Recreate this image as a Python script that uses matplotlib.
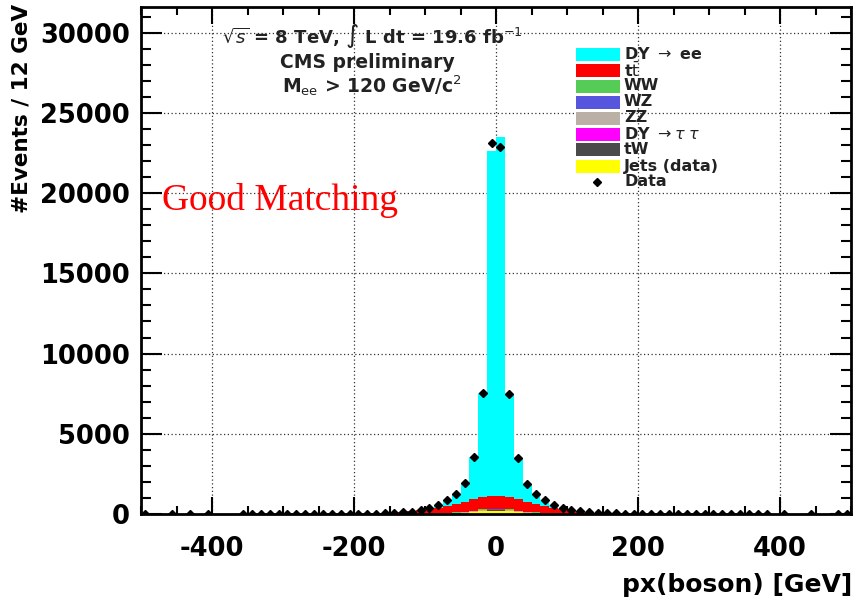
import numpy as np
import matplotlib
matplotlib.use("Agg")
import matplotlib.pyplot as plt
from matplotlib.patches import Rectangle
from matplotlib.ticker import MultipleLocator

plt.rcParams['font.family'] = ['DejaVu Sans']
plt.rcParams['axes.unicode_minus'] = False

# 80 bins of 12.5 GeV from -500 to 500
edges = np.linspace(-500, 500, 81)

data = [1, 0, 0, 1, 0, 1, 0, 1, 0, 0,
        0, 1, 1, 1, 1, 2, 1, 2, 2, 3,
        5, 6, 8, 10, 14, 20, 30, 45, 65, 100,
        150, 240, 380, 580, 870, 1250, 1950, 3550, 7550, 23150,
        22900, 7500, 3500, 1900, 1250, 880, 590, 390, 250, 160,
        105, 70, 48, 33, 23, 16, 11, 9, 7, 5,
        4, 3, 3, 2, 2, 1, 1, 2, 1, 1,
        1, 0, 1, 0, 0, 1, 0, 0, 1, 1]

# simulation only filled in the central 40 bins (-250 .. 250)
dy_ee = [2, 2, 3, 3, 4, 4, 5, 6, 8, 10, 15, 30, 75, 180, 350, 600, 1160, 2640, 6500, 21550,
         22420, 6460, 2590, 1110, 600, 360, 180, 80, 35, 17, 11, 6, 5, 4, 4, 3, 3, 2, 2, 2]
ttbar = [1, 2, 4, 6, 10, 17, 28, 45, 70, 105, 150, 210, 280, 360, 450, 540, 620, 690, 740, 760,
         760, 740, 690, 620, 540, 450, 360, 280, 210, 150, 105, 70, 45, 28, 17, 10, 6, 4, 2, 1]
ww = [0, 0, 0, 0, 0, 0, 0, 1, 2, 3, 5, 7, 11, 16, 22, 29, 36, 42, 47, 50,
      50, 47, 42, 36, 29, 22, 16, 11, 7, 5, 3, 2, 1, 0, 0, 0, 0, 0, 0, 0]
wz = [0, 0, 0, 0, 0, 0, 0, 0, 0, 0, 1, 2, 3, 5, 7, 10, 14, 18, 22, 25,
      25, 22, 18, 14, 10, 7, 5, 3, 2, 1, 0, 0, 0, 0, 0, 0, 0, 0, 0, 0]
zz = [0, 0, 0, 0, 0, 0, 0, 0, 0, 0, 0, 0, 1, 2, 3, 4, 6, 8, 10, 12,
      12, 10, 8, 6, 4, 3, 2, 1, 0, 0, 0, 0, 0, 0, 0, 0, 0, 0, 0, 0]
dy_tautau = [0, 0, 0, 0, 0, 0, 0, 0, 0, 0, 0, 0, 0, 1, 2, 3, 5, 8, 12, 15,
             15, 12, 8, 5, 3, 2, 1, 0, 0, 0, 0, 0, 0, 0, 0, 0, 0, 0, 0, 0]
tw = [0, 0, 0, 0, 0, 0, 0, 0, 1, 2, 4, 6, 9, 13, 17, 22, 26, 30, 33, 35,
      35, 33, 30, 26, 22, 17, 13, 9, 6, 4, 2, 1, 0, 0, 0, 0, 0, 0, 0, 0]
jets = [0, 0, 0, 0, 0, 0, 0, 0, 0, 0, 0, 0, 2, 5, 12, 28, 60, 110, 170, 200,
        200, 170, 110, 60, 28, 12, 5, 2, 0, 0, 0, 0, 0, 0, 0, 0, 0, 0, 0, 0]

labels = [r"DY $\rightarrow$ ee", r"t$\bar{\mathrm{t}}$", "WW", "WZ", "ZZ",
          r"DY $\rightarrow\tau\ \tau$", "tW", "Jets (data)"]
colors = ["#00ffff", "#ff0000", "#55cc55", "#5555dd", "#bbb0a6",
          "#ff00ff", "#4a4a4a", "#ffff00"]
samples = [dy_ee, ttbar, ww, wz, zz, dy_tautau, tw, jets]

fig = plt.figure(figsize=(8.55, 6.06), dpi=100)
W, H = 855, 606
ax = fig.add_axes([141 / W, 1 - 514 / H, (851 - 141) / W, (514 - 7) / H])

# stack from the bottom: jets first, DY->ee on top
bottom = np.zeros(80)
for vals, col in zip(samples[::-1], colors[::-1]):
    v = np.pad(np.array(vals, float), (20, 20))
    ax.stairs(bottom + v, edges, baseline=bottom, fill=True, color=col, lw=0, zorder=2)
    bottom = bottom + v

centers = 0.5 * (edges[:-1] + edges[1:])
data = np.array(data, float)
m = data > 0
ax.plot(centers[m], data[m], "D", color="black", ms=4.5, zorder=4)

ax.set_xlim(-500, 500)
ax.set_ylim(0, 31600)
ax.xaxis.set_major_locator(MultipleLocator(200))
ax.xaxis.set_minor_locator(MultipleLocator(50))
ax.yaxis.set_major_locator(MultipleLocator(5000))
ax.yaxis.set_minor_locator(MultipleLocator(1000))
ax.tick_params(axis="both", which="both", direction="in", top=True, right=True, width=1.5)
ax.tick_params(axis="x", which="major", length=12, pad=16)
ax.tick_params(axis="x", which="minor", length=6)
ax.tick_params(axis="y", which="major", length=15, pad=8)
ax.tick_params(axis="y", which="minor", length=7.5)
for lab in ax.get_xticklabels() + ax.get_yticklabels():
    lab.set_fontsize(18.5)
    lab.set_fontweight("bold")
for s in ax.spines.values():
    s.set_linewidth(2)
ax.set_axisbelow(True)
ax.grid(which="major", color="#333333", linestyle=(0, (1, 2)), lw=0.9, zorder=1)

fig.text(22 / W, 1 - 4 / H, "#Events / 12 GeV", rotation=90, ha="center", va="top",
         fontsize=15.5, fontweight="bold")
fig.text(852 / W, 1 - 585 / H, "px(boson) [GeV]", ha="right", va="center",
         fontsize=18, fontweight="bold")

fig.text(222 / W, 1 - 36 / H, r"$\sqrt{s}$ = 8 TeV, $\int$ L dt = 19.6 fb$^{-1}$",
         va="center", fontsize=13, fontweight="bold", color="#222222")
fig.text(280 / W, 1 - 62 / H, "CMS preliminary", va="center", fontsize=13.5,
         fontweight="bold", color="#222222")
fig.text(282 / W, 1 - 86 / H, r"M$_{\rm ee}$ > 120 GeV/c$^{2}$", va="center", fontsize=13.5,
         fontweight="bold", color="#222222")

fig.text(162 / W, 1 - 210 / H, "Good Matching", family="Liberation Serif", fontsize=27,
         color="red", va="baseline")

# legend drawn by hand, rows 16 px apart
for i, (lab, col) in enumerate(zip(labels, colors)):
    yc = 54 + 16 * i
    fig.patches.append(Rectangle((576 / W, 1 - (yc + 6.5) / H), 44 / W, 13 / H,
                                 transform=fig.transFigure, color=col, lw=0))
    fig.text(624 / W, 1 - yc / H, lab, va="center", fontsize=11.5, fontweight="bold",
             color="#222222")
yc = 54 + 16 * 8
fig.lines.append(plt.Line2D([597 / W], [1 - yc / H], marker="D", ms=4.5, color="black",
                            transform=fig.transFigure))
fig.text(624 / W, 1 - yc / H, "Data", va="center", fontsize=11.5, fontweight="bold",
         color="#222222")

fig.savefig("out.png", dpi=100)
